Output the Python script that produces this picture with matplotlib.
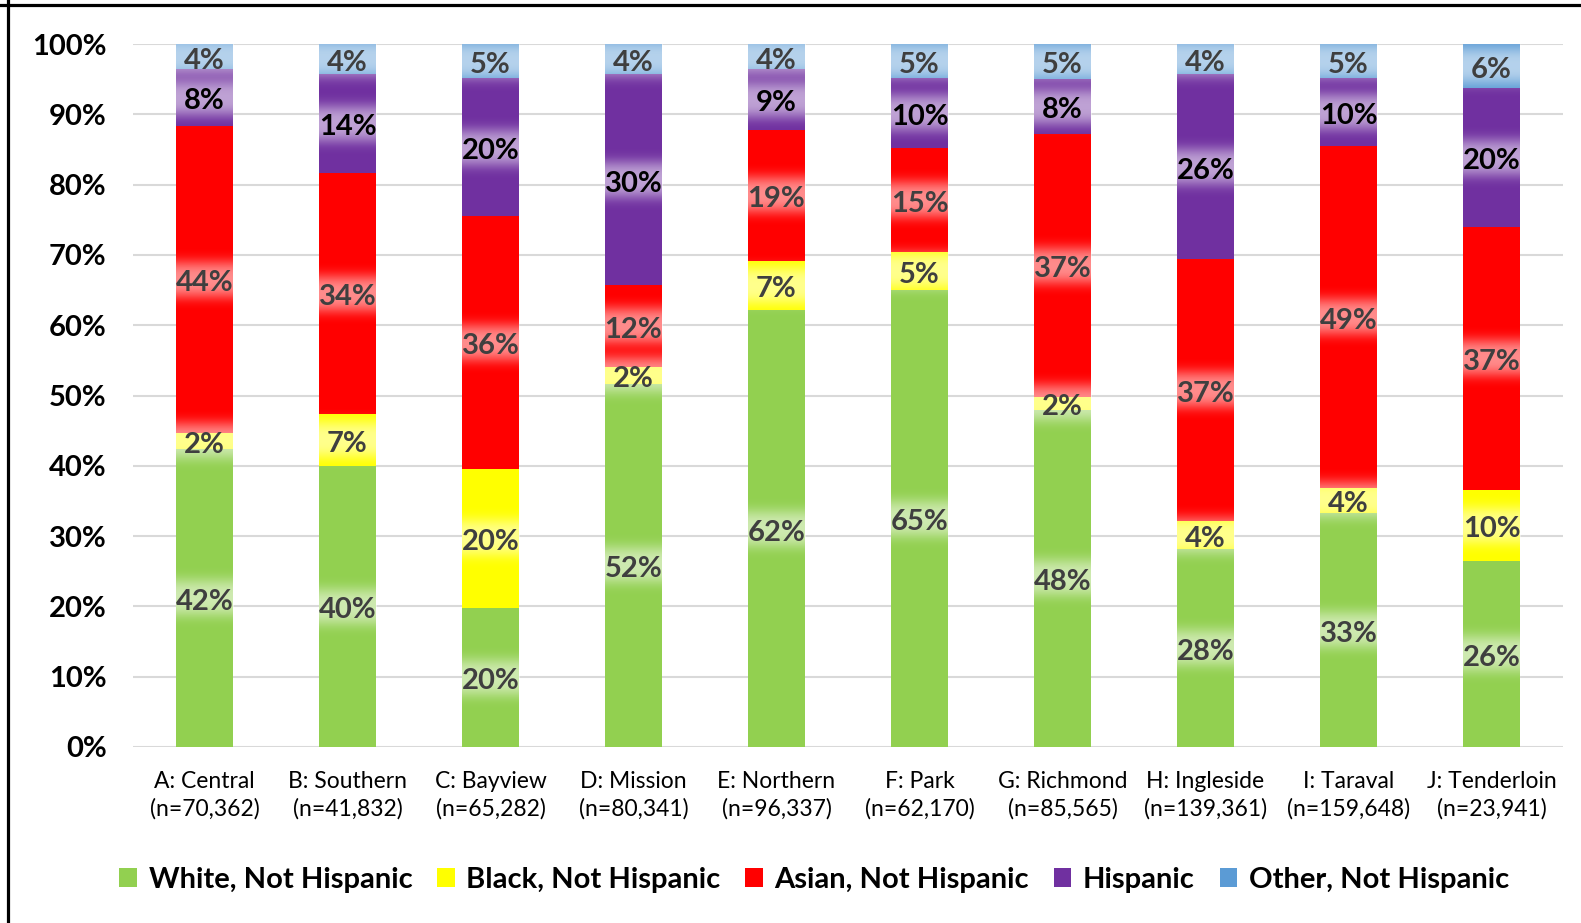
import numpy as np
import matplotlib
matplotlib.use("Agg")
import matplotlib.pyplot as plt
from matplotlib.patches import Patch
from matplotlib.lines import Line2D

plt.rcParams["font.family"] = ["Lato", "DejaVu Sans"]

# districts and sample sizes
districts = ["A: Central", "B: Southern", "C: Bayview", "D: Mission", "E: Northern",
             "F: Park", "G: Richmond", "H: Ingleside", "I: Taraval", "J: Tenderloin"]
n_sizes = ["70,362", "41,832", "65,282", "80,341", "96,337",
           "62,170", "85,565", "139,361", "159,648", "23,941"]

# shares in percent
white = [42.4, 40.0, 19.8, 51.7, 62.1, 65.0, 48.0, 28.1, 33.3, 26.4]
black = [2.2, 7.3, 19.8, 2.4, 7.1, 5.4, 1.8, 4.0, 3.6, 10.2]
asian = [43.8, 34.4, 35.9, 11.6, 18.6, 14.8, 37.4, 37.3, 48.6, 37.4]
hispanic = [8.0, 14.0, 19.6, 30.0, 8.6, 9.9, 7.8, 26.3, 9.6, 19.7]
other = [3.6, 4.3, 4.9, 4.3, 3.6, 4.9, 5.0, 4.3, 4.9, 6.3]

series = [("White, Not Hispanic", white, "#92D050", "#3F3F3F"),
          ("Black, Not Hispanic", black, "#FFFF00", "#3F3F3F"),
          ("Asian, Not Hispanic", asian, "#FF0000", "#3F3F3F"),
          ("Hispanic", hispanic, "#7030A0", "#000000"),
          ("Other, Not Hispanic", other, "#5B9BD5", "#3F3F3F")]

fig = plt.figure(figsize=(15.81, 9.23), dpi=100)
ax = fig.add_axes([0.0841, 0.1907, 0.9045, 0.7616])

x = np.arange(len(districts))
w = 0.4
bottom = np.zeros(len(districts))

# glow profile (white band behind each label)
d = np.linspace(-5, 5, 60)
prof = 0.55 * np.exp(-(np.abs(d) / 2.7) ** 3)
glow = np.ones((len(d), 2, 4))
glow[:, :, 3] = prof[:, None]

for name, vals, col, tcol in series:
    vals = np.array(vals)
    ax.bar(x, vals, w, bottom=bottom, color=col, zorder=2, linewidth=0)
    for xi, b, v in zip(x, bottom, vals):
        yc = b + v / 2
        ax.imshow(glow, extent=[xi - w / 2, xi + w / 2, yc - 5, yc + 5],
                  aspect="auto", zorder=3, interpolation="bilinear")
        ax.text(xi, yc - 0.55, f"{v:.0f}%", ha="center", va="center", fontsize=21,
                fontweight="bold", color=tcol, zorder=4)
    bottom += vals

ax.set_xlim(-0.5, len(districts) - 0.5)
ax.set_ylim(0, 100)
ax.set_yticks(np.arange(0, 101, 10))
ax.set_yticklabels([f"{t}%" for t in range(0, 101, 10)], fontsize=21, fontweight="bold")
ax.set_xticks(x)
ax.set_xticklabels([f"{a}\n(n={b})" for a, b in zip(districts, n_sizes)],
                   fontsize=16.5, linespacing=1.35)
ax.tick_params(axis="y", length=0, pad=19)
ax.tick_params(axis="x", length=0, pad=17)
ax.grid(axis="y", color="#D9D9D9", linewidth=1.5, zorder=0)
ax.set_axisbelow(True)
for s in ax.spines.values():
    s.set_visible(False)

handles = [Patch(facecolor=c, edgecolor="none") for _, _, c, _ in series]
fig.legend(handles, [s[0] for s in series], loc="center", ncol=5,
           bbox_to_anchor=(0.515, 0.047), frameon=False,
           prop={"size": 21, "weight": "bold"}, handlelength=0.6, handleheight=0.6,
           handletextpad=0.4, columnspacing=0.85)

# frame lines at top and left
fig.add_artist(Line2D([0, 1], [1 - 5 / 923, 1 - 5 / 923], color="black", lw=2.3,
                      transform=fig.transFigure))
fig.add_artist(Line2D([8 / 1581, 8 / 1581], [0, 1], color="black", lw=2.3,
                      transform=fig.transFigure))

fig.savefig("out.png", dpi=100)
